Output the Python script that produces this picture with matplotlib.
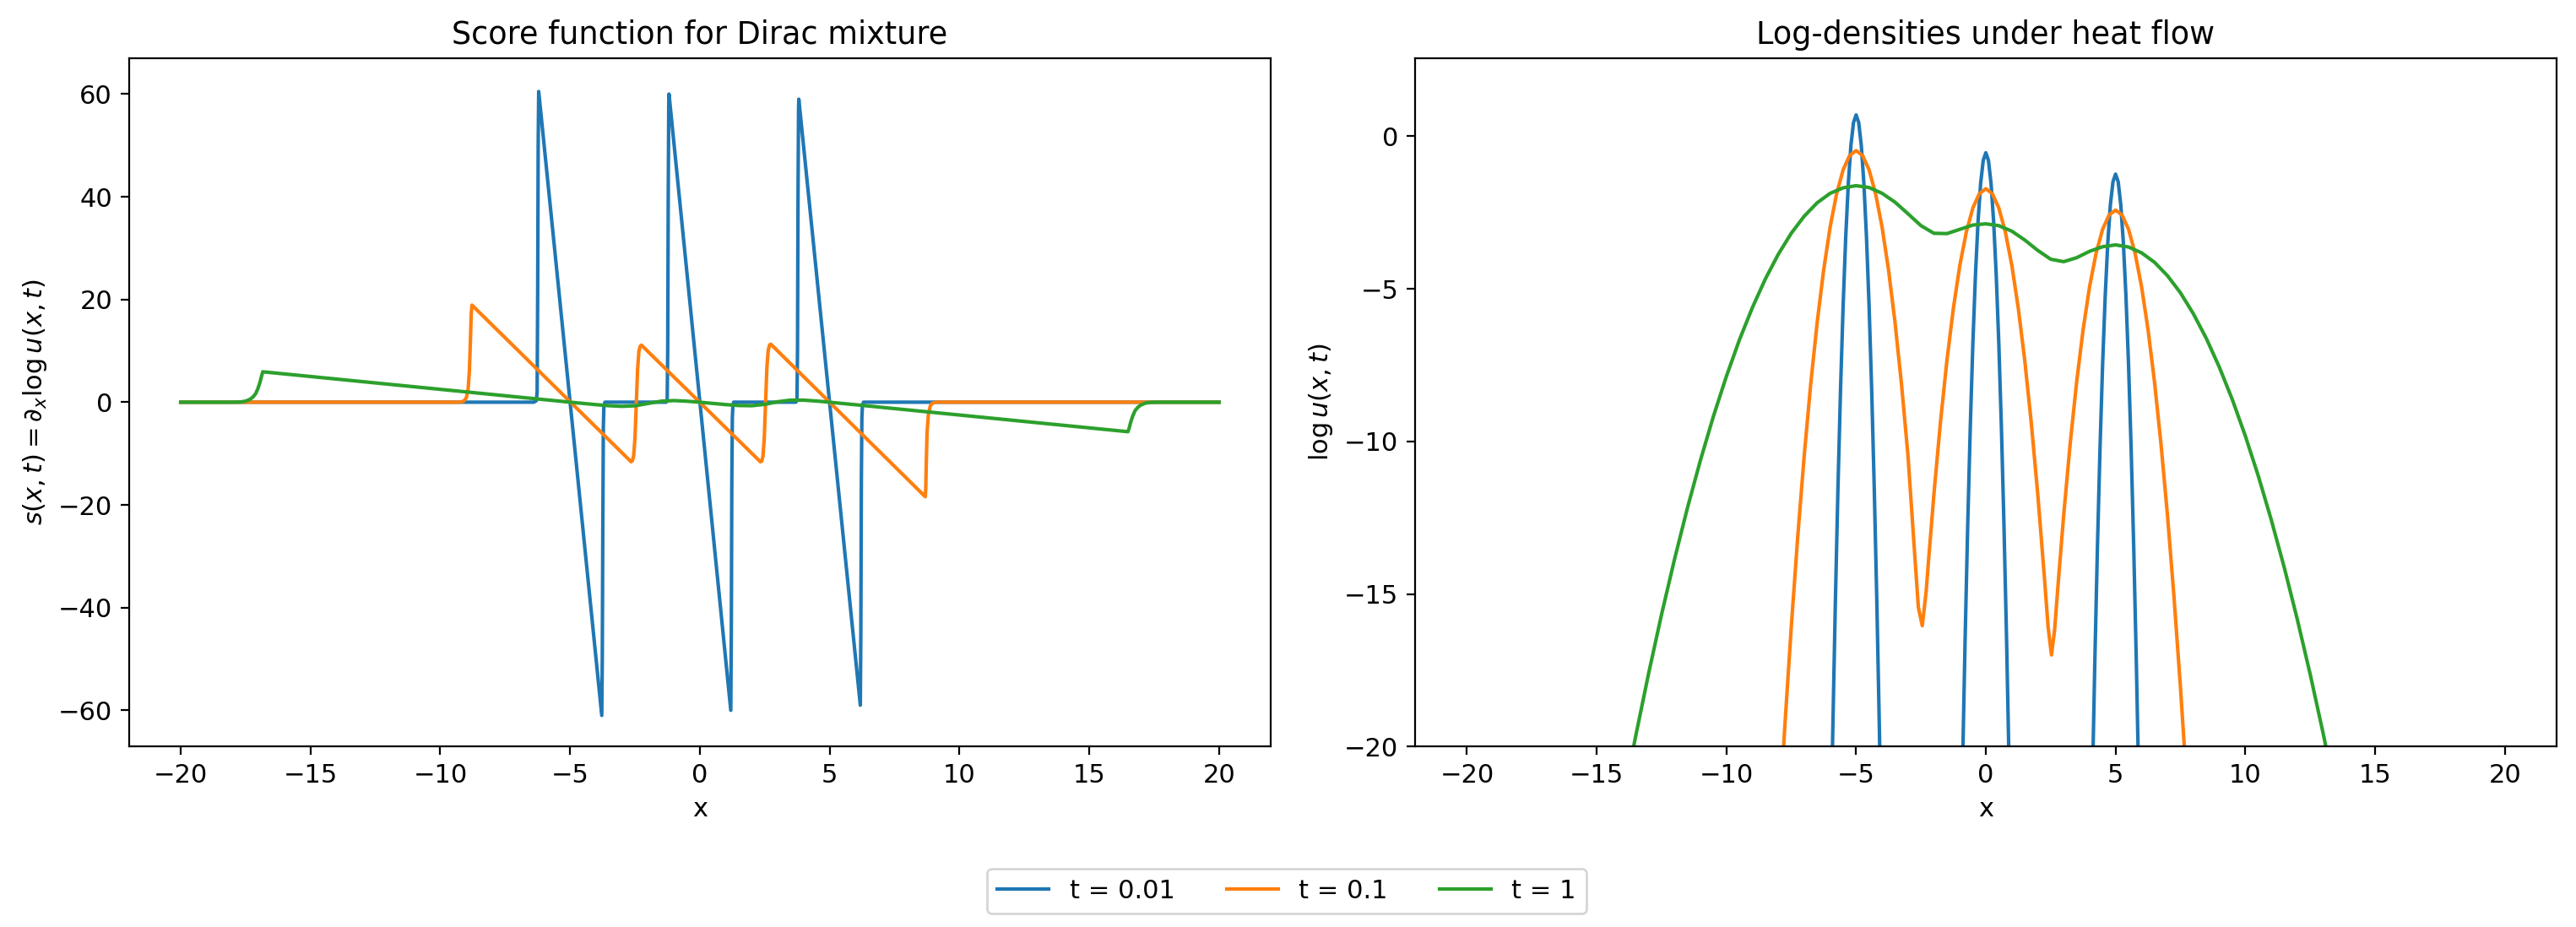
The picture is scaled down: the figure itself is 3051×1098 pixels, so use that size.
import matplotlib
matplotlib.use('Agg')
import matplotlib.pyplot as plt

plt.rcParams['font.size'] = 11

# ---- left panel: score s(x, t) ----
score_x_001 = [-20.0, -6.4, -6.3, -6.27, -6.25, -6.23, -6.21,
               -3.78, -3.76, -3.74, -3.72, -3.7, -3.66,
               -1.3, -1.26, -1.24, -1.22, -1.2, -1.19,
               1.19, 1.21, 1.23, 1.25, 1.27, 1.3,
               3.7, 3.74, 3.76, 3.78, 3.8, 3.81,
               6.18, 6.2, 6.22, 6.24, 6.26, 6.3, 20.0]
score_y_001 = [0.0, 0.0, 0.3, 2.0, 20.0, 50.0, 60.5,
               -61.0, -50.0, -25.0, -5.0, -1.0, 0.0,
               0.0, 0.5, 10.0, 40.0, 58.0, 60.0,
               -60.0, -45.0, -15.0, -3.0, -0.8, 0.0,
               0.0, 0.5, 10.0, 40.0, 57.0, 59.0,
               -59.0, -45.0, -15.0, -3.0, -0.8, 0.0, 0.0]

score_x_01 = [-20.0, -9.25, -9.1, -9.0, -8.93, -8.88, -8.84, -8.81, -8.78,
              -2.65, -2.6, -2.55, -2.5, -2.45, -2.4, -2.35, -2.3, -2.25,
              2.33, 2.38, 2.43, 2.48, 2.53, 2.58, 2.63, 2.68, 2.73,
              8.68, 8.7, 8.72, 8.75, 8.8, 8.87, 8.95, 9.1, 20.0]
score_y_01 = [0.0, 0.0, 0.2, 0.8, 2.5, 6.0, 12.0, 17.0, 18.9,
              -11.6, -11.4, -10.4, -6.9, -0.3, 6.4, 9.9, 10.9, 11.1,
              -11.6, -11.5, -10.5, -7.0, -0.1, 6.7, 10.0, 11.1, 11.3,
              -18.4, -17.0, -12.0, -6.0, -2.5, -0.8, -0.2, 0.0, 0.0]

score_x_1 = [-20.0, -18.0, -17.68, -17.5, -17.34, -17.23, -17.12, -17.03, -16.95, -16.9, -16.84,
             -10.0, -6.0, -5.0, -4.0, -3.5, -3.0, -2.5, -2.0, -1.5, -1.0, -0.5,
             0.0, 0.5, 1.0, 1.5, 2.0, 2.5, 3.0, 3.5, 4.0, 4.5, 5.0, 6.0, 10.0,
             16.49, 16.55, 16.6, 16.68, 16.77, 16.88, 16.99, 17.15, 17.33, 17.6, 20.0]
score_y_1 = [0.0, 0.0, 0.05, 0.2, 0.54, 0.95, 1.6, 2.6, 3.8, 4.8, 5.92,
             2.5, 0.5, 0.0, -0.48, -0.69, -0.81, -0.7, -0.25, 0.19, 0.31, 0.19,
             -0.01, -0.24, -0.47, -0.65, -0.69, -0.42, 0.09, 0.4, 0.39, 0.22, -0.01, -0.5, -2.5,
             -5.75, -4.8, -3.8, -2.6, -1.6, -0.95, -0.54, -0.2, -0.05, 0.0, 0.0]

# ---- right panel: log u(x, t) ----
logu_x_001 = [-6.0, -5.9, -5.8, -5.7, -5.6, -5.5, -5.4, -5.3, -5.2, -5.1, -5.0,
              -4.9, -4.8, -4.7, -4.6, -4.5, -4.4, -4.3, -4.2, -4.1, -4.0,
              -1.0, -0.9, -0.8, -0.7, -0.6, -0.5, -0.4, -0.3, -0.2, -0.1, 0.0,
              0.1, 0.2, 0.3, 0.4, 0.5, 0.6, 0.7, 0.8, 0.9, 1.0,
              4.0, 4.1, 4.2, 4.3, 4.4, 4.5, 4.6, 4.7, 4.8, 4.9, 5.0,
              5.1, 5.2, 5.3, 5.4, 5.5, 5.6, 5.7, 5.8, 5.9, 6.0]
logu_y_001 = [-24.3, -19.55, -15.3, -11.55, -8.3, -5.55, -3.3, -1.55, -0.3, 0.45, 0.7,
              0.45, -0.3, -1.55, -3.3, -5.55, -8.3, -11.55, -15.3, -19.55, -24.3,
              -25.5, -20.79, -16.54, -12.79, -9.54, -6.79, -4.54, -2.79, -1.54, -0.79, -0.54,
              -0.79, -1.54, -2.79, -4.54, -6.79, -9.54, -12.79, -16.54, -20.79, -25.5,
              -26.2, -21.49, -17.24, -13.49, -10.24, -7.49, -5.24, -3.49, -2.24, -1.49, -1.24,
              -1.49, -2.24, -3.49, -5.24, -7.49, -10.24, -13.49, -17.24, -21.49, -26.2]

logu_x_01 = [-8.0, -7.75, -7.5, -7.25, -7.0, -6.75, -6.5, -6.25, -6.0, -5.75, -5.5, -5.25,
             -5.0, -4.75, -4.5, -4.25, -4.0, -3.75, -3.5, -3.25, -3.0,
             -2.75, -2.6, -2.45, -2.3, -2.2, -2.0, -1.75, -1.5, -1.25, -1.0, -0.75, -0.5, -0.25, 0.0,
             0.25, 0.5, 0.75, 1.0, 1.25, 1.5, 1.75, 2.0, 2.25, 2.4, 2.53, 2.65, 2.8, 3.0,
             3.25, 3.5, 3.75, 4.0, 4.25, 4.5, 4.75, 5.0, 5.25, 5.5, 5.75, 6.0, 6.25, 6.5, 6.75,
             7.0, 7.25, 7.5, 7.75, 8.0]
logu_y_01 = [-22.97, -19.38, -16.1, -13.13, -10.47, -8.13, -6.1, -4.38, -2.97, -1.88, -1.1, -0.63,
             -0.47, -0.63, -1.1, -1.88, -2.97, -4.38, -6.1, -8.13, -10.47,
             -13.6, -15.44, -16.04, -14.92, -13.82, -11.72, -9.38, -7.35, -5.63, -4.22, -3.13, -2.35, -1.88, -1.72,
             -1.88, -2.35, -3.13, -4.22, -5.63, -7.35, -9.38, -11.72, -14.38, -16.08, -17.0, -16.18, -14.52, -12.42,
             -10.08, -8.05, -6.33, -4.92, -3.83, -3.05, -2.58, -2.42, -2.58, -3.05, -3.83, -4.92, -6.33, -8.05, -10.08,
             -12.42, -15.08, -18.05, -21.33, -24.92]

logu_x_1 = [-14.0, -13.5, -13.0, -12.5, -12.0, -11.5, -11.0, -10.5, -10.0, -9.5, -9.0, -8.5,
            -8.0, -7.5, -7.0, -6.5, -6.0, -5.5,
            -5.0, -4.5, -4.0, -3.5, -3.0, -2.5, -2.0, -1.5, -1.0, -0.5, 0.0,
            0.5, 1.0, 1.5, 2.0, 2.5, 3.0, 3.5, 4.0, 4.5, 5.0, 5.5, 6.0, 6.5,
            7.0, 7.5, 8.0, 8.5, 9.0, 9.5, 10.0, 10.5, 11.0, 11.5, 12.0, 12.5, 13.0, 13.5, 14.0]
logu_y_1 = [-21.87, -19.68, -17.62, -15.68, -13.87, -12.18, -10.62, -9.18, -7.87, -6.68, -5.62, -4.68,
            -3.87, -3.18, -2.62, -2.18, -1.87, -1.69,
            -1.62, -1.68, -1.87, -2.16, -2.54, -2.93, -3.18, -3.19, -3.05, -2.91, -2.87,
            -2.93, -3.11, -3.4, -3.74, -4.03, -4.11, -3.98, -3.77, -3.62, -3.56, -3.63, -3.82, -4.13,
            -4.57, -5.13, -5.82, -6.63, -7.57, -8.63, -9.82, -11.13, -12.57, -14.13, -15.82, -17.63,
            -19.57, -21.63, -23.82]

labels = ['t = 0.01', 't = 0.1', 't = 1']
colors = ['#1f77b4', '#ff7f0e', '#2ca02c']

fig = plt.figure(figsize=(15.255, 5.49), dpi=200)
ax1 = fig.add_axes([0.0500, 0.1947, 0.4434, 0.7429])
ax2 = fig.add_axes([0.5493, 0.1947, 0.4432, 0.7429])

score_series = [(score_x_001, score_y_001), (score_x_01, score_y_01), (score_x_1, score_y_1)]
for (xs, ys), lab, col in zip(score_series, labels, colors):
    ax1.plot(xs, ys, color=col, label=lab)
ax1.set_xlim(-22, 22)
ax1.set_ylim(-67.05, 67.05)
ax1.set_title('Score function for Dirac mixture')
ax1.set_xlabel('x')
ax1.set_ylabel(r'$s(x,t) = \partial_x \log u(x,t)$')

logu_series = [(logu_x_001, logu_y_001), (logu_x_01, logu_y_01), (logu_x_1, logu_y_1)]
for (xs, ys), lab, col in zip(logu_series, labels, colors):
    ax2.plot(xs, ys, color=col, label=lab)
ax2.set_xlim(-22, 22)
ax2.set_ylim(-20, 2.57)
ax2.set_xticks([-20, -15, -10, -5, 0, 5, 10, 15, 20])
ax2.set_title('Log-densities under heat flow')
ax2.set_xlabel('x')
ax2.set_ylabel(r'$\log u(x,t)$')

handles, labs = ax1.get_legend_handles_labels()
fig.legend(handles, labs, loc='center', bbox_to_anchor=(0.4995, 0.0387), ncol=3)

fig.savefig('out.png', dpi=200)
